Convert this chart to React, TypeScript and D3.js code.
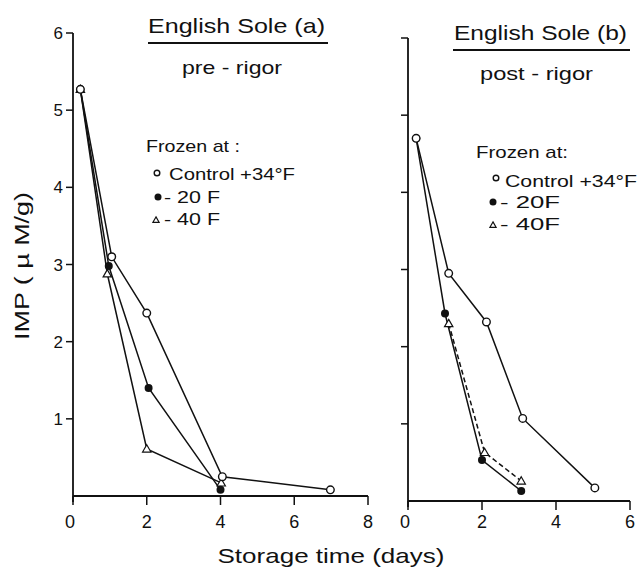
import React, { useEffect, useRef } from "react";
import * as d3 from "d3";

// panel (a) pre-rigor: [day, IMP µM/g]
const aControl = [[0.2, 5.27], [1.05, 3.1], [2.0, 2.37], [4.05, 0.25], [6.98, 0.08]];
const aMinus20 = [[0.2, 5.27], [0.97, 2.98], [2.05, 1.4], [4.0, 0.08]];
const aMinus40 = [[0.2, 5.27], [0.93, 2.88], [2.0, 0.61], [4.02, 0.17]];

// panel (b) post-rigor
const bControl = [[0.22, 4.7], [1.1, 2.95], [2.12, 2.32], [3.1, 1.07], [5.05, 0.17]];
const bMinus20 = [[0.22, 4.7], [1.0, 2.43], [2.0, 0.53], [3.06, 0.13]];
const bMinus40 = [[1.1, 2.3], [2.07, 0.63], [3.06, 0.26]];

const aXTicks = [0, 2, 4, 6, 8];
const bXTicks = [0, 2, 4, 6];
const yTicks = [1, 2, 3, 4, 5, 6];
const yTickLabels = ["1", "2", "3", "4", "5", "6"];

const legendLabelsA = ["Control +34°F", "- 20 F", "- 40 F"];
const legendLabelsB = ["Control +34°F", "- 20F", "- 40F"];

const FONT = "'Liberation Sans', Arial, sans-serif";

export default function App() {
    const ref = useRef<SVGSVGElement>(null);

    useEffect(() => {
        const svg = d3.select(ref.current);
        svg.selectAll("*").remove();
        svg.attr("font-family", FONT);

        const addText = (x: number, y: number, txt: string, size: number, len?: number, anchor = "start") => {
            const t = svg.append("text")
                .attr("x", x).attr("y", y)
                .attr("font-size", size)
                .attr("text-anchor", anchor)
                .attr("fill", "#111")
                .text(txt);
            if (len) t.attr("textLength", len).attr("lengthAdjust", "spacingAndGlyphs");
            return t;
        };

        const marker = (g: any, kind: string, x: number, y: number, size: number) => {
            if (kind === "circle") {
                g.append("circle").attr("cx", x).attr("cy", y).attr("r", size)
                    .attr("fill", "#fff").attr("stroke", "#111").attr("stroke-width", 1.4);
            } else if (kind === "dot") {
                g.append("circle").attr("cx", x).attr("cy", y).attr("r", size)
                    .attr("fill", "#111");
            } else {
                const s = size * 1.1;
                g.append("path")
                    .attr("d", `M${x},${y - s}L${x + s},${y + s * 0.75}L${x - s},${y + s * 0.75}Z`)
                    .attr("fill", "#fff").attr("stroke", "#111").attr("stroke-width", 1.2);
            }
        };

        const drawPanel = (opts: any) => {
            const { x, y, xTicks, showYLabels, series } = opts;
            const g = svg.append("g");
            const [x0, x1] = x.range();
            const [y0] = y.range();

            // axes
            g.append("line").attr("x1", x0).attr("x2", x0).attr("y1", y(6)).attr("y2", y0 + 6)
                .attr("stroke", "#111").attr("stroke-width", 1.8);
            g.append("line").attr("x1", x0).attr("x2", x1).attr("y1", y0).attr("y2", y0)
                .attr("stroke", "#111").attr("stroke-width", 1.8);

            yTicks.forEach((v, i) => {
                g.append("line").attr("x1", x0 - 7).attr("x2", x0).attr("y1", y(v)).attr("y2", y(v))
                    .attr("stroke", "#111").attr("stroke-width", 1.5);
                if (showYLabels) {
                    g.append("text").attr("x", x0 - 10).attr("y", y(v) + 6)
                        .attr("text-anchor", "end").attr("font-size", 17).attr("fill", "#111")
                        .text(yTickLabels[i]);
                }
            });

            xTicks.forEach((v: number) => {
                g.append("line").attr("x1", x(v)).attr("x2", x(v)).attr("y1", y0).attr("y2", y0 + 9)
                    .attr("stroke", "#111").attr("stroke-width", 1.5);
                g.append("text").attr("x", x(v) - (v === 0 ? 3 : 0)).attr("y", 528)
                    .attr("text-anchor", "middle").attr("font-size", 18).attr("fill", "#111")
                    .text(String(v));
            });

            const line = d3.line<number[]>().x(d => x(d[0])).y(d => y(d[1]));
            series.forEach((s: any) => {
                g.append("path").attr("d", line(s.data))
                    .attr("fill", "none").attr("stroke", "#111").attr("stroke-width", 1.5)
                    .attr("stroke-dasharray", s.dash ? "5,3" : null);
            });
            // control drawn last so its open circles sit on top of shared points
            series.slice().reverse().forEach((s: any) => {
                s.data.forEach((d: number[]) => marker(g, s.kind, x(d[0]), y(d[1]), s.kind === "dot" ? 4 : 3.8));
            });
        };

        const ax = d3.scaleLinear().domain([0, 8]).range([73, 368]);
        const ay = d3.scaleLinear().domain([0, 6]).range([496, 33]);
        const bx = d3.scaleLinear().domain([0, 6]).range([408, 630]);
        const by = d3.scaleLinear().domain([0, 6]).range([501, 38]);

        drawPanel({
            x: ax, y: ay, xTicks: aXTicks, showYLabels: true,
            series: [
                { data: aControl, kind: "circle" },
                { data: aMinus20, kind: "dot" },
                { data: aMinus40, kind: "tri" },
            ],
        });
        drawPanel({
            x: bx, y: by, xTicks: bXTicks, showYLabels: false,
            series: [
                { data: bControl, kind: "circle" },
                { data: bMinus20, kind: "dot" },
                { data: bMinus40, kind: "tri", dash: true },
            ],
        });

        // titles
        addText(148, 33, "English Sole (a)", 21, 177);
        svg.append("line").attr("x1", 148).attr("x2", 328).attr("y1", 43).attr("y2", 43)
            .attr("stroke", "#111").attr("stroke-width", 1.8);
        addText(182, 74, "pre - rigor", 19, 100);

        addText(454, 40, "English Sole (b)", 21, 173);
        svg.append("line").attr("x1", 453).attr("x2", 630).attr("y1", 50).attr("y2", 50)
            .attr("stroke", "#111").attr("stroke-width", 1.8);
        addText(480, 80, "post - rigor", 19, 113);

        // legends
        const kinds = ["circle", "dot", "tri"];
        addText(146, 152, "Frozen at :", 17, 94);
        const legA = svg.append("g");
        [[157, 173, 169, 180, 126], [158, 197, 164, 203, 56], [156, 220, 164, 225, 56]].forEach((p, i) => {
            marker(legA, kinds[i], p[0], p[1], i === 1 ? 3.5 : 2.8);
            addText(p[2], p[3], legendLabelsA[i], 17, p[4]);
        });
        addText(476, 158, "Frozen at:", 17, 92);
        const legB = svg.append("g");
        [[496, 178, 505, 187, 132], [493, 202, 500, 208, 60], [493, 225, 500, 230, 60]].forEach((p, i) => {
            marker(legB, kinds[i], p[0], p[1], i === 1 ? 3.5 : 2.8);
            addText(p[2], p[3], legendLabelsB[i], 17, p[4]);
        });

        // axis titles
        addText(331, 563, "Storage time (days)", 21, 227, "middle");
        svg.append("text")
            .attr("transform", "translate(29,266) rotate(-90)")
            .attr("text-anchor", "middle").attr("font-size", 21).attr("fill", "#111")
            .attr("textLength", 148).attr("lengthAdjust", "spacingAndGlyphs")
            .text("IMP ( µ M/g)");
    }, []);

    return (
        <svg ref={ref} width={638} height={569}
            style={{ position: "absolute", left: 0, top: 0, background: "#fff" }} />
    );
}
